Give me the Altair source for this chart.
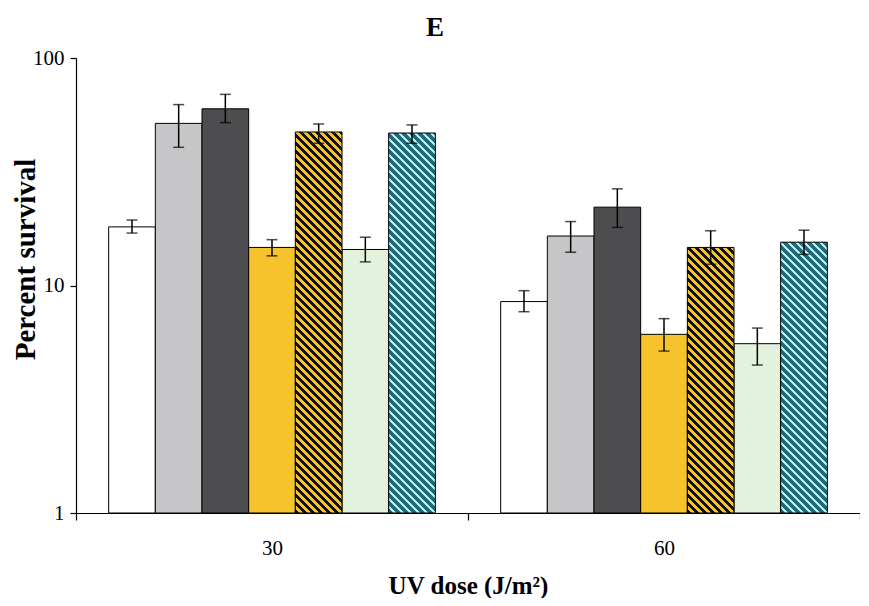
import altair as alt
import pandas as pd
import math

# ---- data ----
doses = ["30", "60"]
series = ["S1", "S2", "S3", "S4", "S5", "S6", "S7"]
values_30 = [18.1, 51.6, 59.8, 14.7, 47.3, 14.4, 46.8]
low_30 = [17.0, 40.5, 52.0, 13.5, 42.2, 12.7, 42.2]
high_30 = [19.4, 62.4, 69.2, 15.9, 51.3, 16.3, 50.8]
values_60 = [8.5, 16.5, 22.1, 6.1, 14.7, 5.55, 15.5]
low_60 = [7.67, 14.0, 18.0, 5.15, 12.4, 4.47, 13.7]
high_60 = [9.49, 19.1, 26.6, 7.15, 17.4, 6.5, 17.5]

solid_colors = {"S1": "#ffffff", "S2": "#c6c6c8", "S3": "#4d4d4f",
                "S4": "#f6c32c", "S6": "#e2f2dc"}
hatch_colors = {"S5": ("#111111", "#f6c32c"), "S7": ("#1d6a78", "#c2e8f2")}

rows = []
for d, vals, lo, hi in [("30", values_30, low_30, high_30),
                        ("60", values_60, low_60, high_60)]:
    for s, v, l, h in zip(series, vals, lo, hi):
        rows.append({"dose": d, "series": s, "value": v, "low": l, "high": h})
df = pd.DataFrame(rows)

W_PLOT, H_PLOT = 784, 455
PAD_OUTER = 0.7
bar_w = W_PLOT / len(doses) / (len(series) + 2 * PAD_OUTER)

FONT = "Liberation Serif"

x_enc = alt.X("dose:N", sort=doses, scale=alt.Scale(paddingInner=0, paddingOuter=0),
              axis=alt.Axis(title="UV dose (J/m\u00b2)", labelAngle=0, tickBand="extent",
                            tickSize=7, labelPadding=17, titlePadding=15,
                            labelFont=FONT, titleFont=FONT,
                            labelFontSize=21, titleFontSize=25, titleFontWeight="bold"))
xo_enc = alt.XOffset("series:N", sort=series,
                     scale=alt.Scale(domain=series, paddingInner=0, paddingOuter=PAD_OUTER))
y_scale = alt.Scale(type="log", domain=[1, 100], nice=False)
y_enc = alt.Y("value:Q", scale=y_scale,
              axis=alt.Axis(title="Percent survival", values=[1, 10, 100], format=".0f",
                            grid=False, tickSize=6, labelPadding=6, titlePadding=-8,
                            titleY=201,
                            labelFont=FONT, titleFont=FONT,
                            labelFontSize=21, titleFontSize=29, titleFontWeight="bold"))
y2_enc = alt.datum(1)

solid = alt.Chart(df).transform_filter(
    alt.FieldOneOfPredicate(field="series", oneOf=list(solid_colors))
).mark_bar(stroke="black", strokeWidth=1).encode(
    x=x_enc, xOffset=xo_enc, y=y_enc, y2=y2_enc,
    fill=alt.Fill("series:N", scale=alt.Scale(domain=list(solid_colors),
                                              range=list(solid_colors.values())),
                  legend=None),
)


def hatch_gradient(h_px, dark, light, period=8.0, frac=0.5):
    w_px = bar_w
    total = w_px + h_px
    k = total / (w_px ** 2 + h_px ** 2)
    stops = []
    s = 0.0
    while s < total:
        for off, col in [(s, dark), (s + period * frac, dark),
                         (s + period * frac, light), (s + period, light)]:
            stops.append(alt.GradientStop(offset=min(off / total, 1.0), color=col))
        s += period
    return alt.LinearGradient(gradient="linear", stops=stops,
                              x1=0, y1=1, x2=w_px * k, y2=1 - h_px * k)


hatched_layers = []
for _, r in df[df["series"].isin(list(hatch_colors))].iterrows():
    h_px = H_PLOT * math.log10(r["value"]) / 2.0
    dark, light = hatch_colors[r["series"]]
    frac = 0.5 if r["series"] == "S5" else 0.56
    layer = alt.Chart(df).transform_filter(
        (alt.datum.series == r["series"]) & (alt.datum.dose == r["dose"])
    ).mark_bar(stroke="black", strokeWidth=1,
               fill=hatch_gradient(h_px, dark, light, frac=frac)).encode(
        x=x_enc, xOffset=xo_enc, y=y_enc, y2=y2_enc)
    hatched_layers.append(layer)

err = alt.Chart(df).mark_rule(color="black", strokeWidth=1.5).encode(
    x=x_enc, xOffset=xo_enc, y=alt.Y("low:Q", scale=y_scale), y2="high:Q")
cap_lo = alt.Chart(df).mark_tick(color="black", thickness=1.5).encode(
    x=x_enc, xOffset=xo_enc, y=alt.Y("low:Q", scale=y_scale), size=alt.value(11))
cap_hi = alt.Chart(df).mark_tick(color="black", thickness=1.5).encode(
    x=x_enc, xOffset=xo_enc, y=alt.Y("high:Q", scale=y_scale), size=alt.value(11))

chart = alt.layer(solid, *hatched_layers, err, cap_lo, cap_hi).properties(
    width=W_PLOT, height=H_PLOT,
    title=alt.TitleParams(text="E", font=FONT, fontSize=27, fontWeight="bold",
                          anchor="middle", dx=-33, offset=5,
                          color="black"),
    autosize=alt.AutoSizeParams(type="none"),
    padding={"left": 68, "top": 50, "right": 0, "bottom": 85},
    background="white",
).configure_view(stroke=None).configure_axis(
    labelFont=FONT, titleFont=FONT, labelColor="black", titleColor="black",
    domainColor="black", tickColor="black", domainWidth=1.2, tickWidth=1.2,
)

chart.save("out.html", embed_options={"renderer": "svg", "actions": False})
